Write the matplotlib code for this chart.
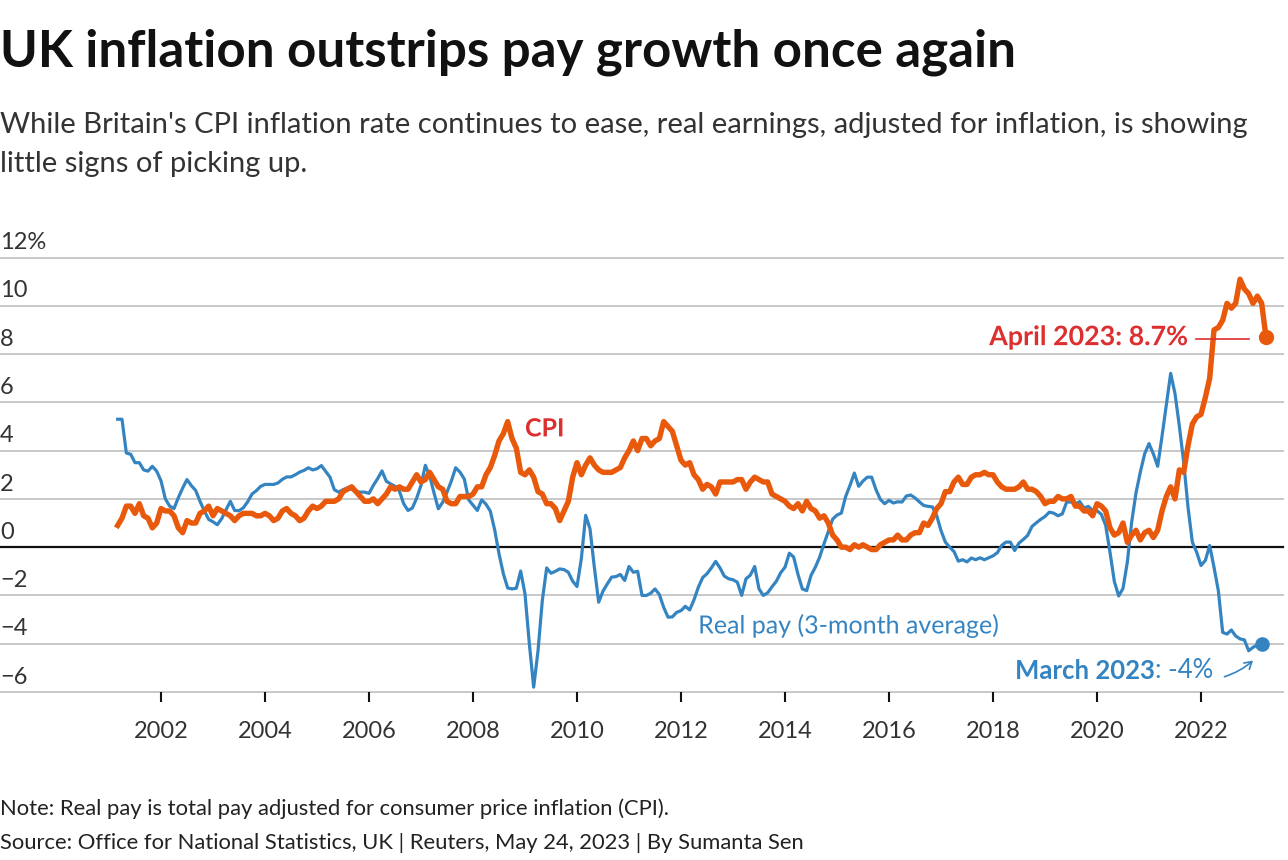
import numpy as np
import matplotlib
matplotlib.use("Agg")
import matplotlib.pyplot as plt
import matplotlib.patheffects as pe


# monthly series, first value = March 2001
start_year = 2001
start_month = 3

# CPI annual rate, Mar 2001 - Apr 2023
cpi = [
    0.9, 1.2, 1.7, 1.7, 1.4, 1.8, 1.3, 1.2, 0.8, 1.0,
    1.6, 1.5, 1.5, 1.3, 0.8, 0.6, 1.1, 1.0, 1.0, 1.4, 1.5, 1.7,
    1.3, 1.6, 1.5, 1.4, 1.3, 1.1, 1.3, 1.4, 1.4, 1.4, 1.3, 1.3,
    1.4, 1.3, 1.1, 1.2, 1.5, 1.6, 1.4, 1.3, 1.1, 1.2, 1.5, 1.7,
    1.6, 1.7, 1.9, 1.9, 1.9, 2.0, 2.3, 2.4, 2.5, 2.3, 2.1, 1.9,
    1.9, 2.0, 1.8, 2.0, 2.2, 2.5, 2.4, 2.5, 2.4, 2.4, 2.7, 3.0,
    2.7, 2.8, 3.1, 2.8, 2.5, 2.4, 1.9, 1.8, 1.8, 2.1, 2.1, 2.1,
    2.2, 2.5, 2.5, 3.0, 3.3, 3.8, 4.4, 4.7, 5.2, 4.5, 4.1, 3.1,
    3.0, 3.2, 2.9, 2.3, 2.2, 1.8, 1.8, 1.6, 1.1, 1.5, 1.9, 2.9,
    3.5, 3.0, 3.4, 3.7, 3.4, 3.2, 3.1, 3.1, 3.1, 3.2, 3.3, 3.7,
    4.0, 4.4, 4.0, 4.5, 4.5, 4.2, 4.4, 4.5, 5.2, 5.0, 4.8, 4.2,
    3.6, 3.4, 3.5, 3.0, 2.8, 2.4, 2.6, 2.5, 2.2, 2.7, 2.7, 2.7,
    2.7, 2.8, 2.8, 2.4, 2.7, 2.9, 2.8, 2.7, 2.7, 2.2, 2.1, 2.0,
    1.9, 1.7, 1.6, 1.8, 1.5, 1.9, 1.6, 1.5, 1.2, 1.3, 1.0, 0.5,
    0.3, 0.0, 0.0, -0.1, 0.1, 0.0, 0.1, 0.0, -0.1, -0.1, 0.1, 0.2,
    0.3, 0.3, 0.5, 0.3, 0.3, 0.5, 0.6, 0.6, 1.0, 0.9, 1.2, 1.6,
    1.8, 2.3, 2.3, 2.7, 2.9, 2.6, 2.6, 2.9, 3.0, 3.0, 3.1, 3.0,
    3.0, 2.7, 2.5, 2.4, 2.4, 2.4, 2.5, 2.7, 2.4, 2.4, 2.3, 2.1,
    1.8, 1.9, 1.9, 2.1, 2.0, 2.0, 2.1, 1.7, 1.7, 1.5, 1.5, 1.3,
    1.8, 1.7, 1.5, 0.8, 0.5, 0.6, 1.0, 0.2, 0.5, 0.7, 0.3, 0.6,
    0.7, 0.4, 0.7, 1.5, 2.1, 2.5, 2.0, 3.2, 3.1, 4.2, 5.1, 5.4,
    5.5, 6.2, 7.0, 9.0, 9.1, 9.4, 10.1, 9.9, 10.1, 11.1, 10.7, 10.5,
    10.1, 10.4, 10.1, 8.7,
]

# real total pay, 3-month average, Mar 2001 - Mar 2023
real_pay = [
    5.3, 5.3, 3.9, 3.85, 3.5, 3.5, 3.2, 3.15, 3.35, 3.15,
    2.75, 2.0, 1.7, 1.6, 2.05, 2.45, 2.8, 2.55, 2.35, 1.9, 1.5, 1.15,
    1.05, 0.93, 1.18, 1.55, 1.9, 1.52, 1.51, 1.63, 1.88, 2.2, 2.34, 2.52,
    2.6, 2.6, 2.6, 2.66, 2.81, 2.91, 2.91, 3.0, 3.11, 3.18, 3.29, 3.2,
    3.25, 3.38, 3.14, 2.9, 2.38, 2.28, 2.38, 2.45, 2.4, 2.31, 2.28, 2.28,
    2.23, 2.56, 2.84, 3.16, 2.73, 2.62, 2.52, 2.33, 1.8, 1.52, 1.62, 2.03,
    2.56, 3.39, 2.95, 2.25, 1.59, 1.86, 2.28, 2.74, 3.29, 3.11, 2.82, 1.96,
    1.74, 1.52, 1.96, 1.78, 1.49, 0.72, -0.27, -1.1, -1.69, -1.73, -1.7, -0.99,
    -1.94, -4.0, -5.8, -4.3, -2.2, -0.86, -1.08, -1.0, -0.9, -0.93, -1.04, -1.41,
    -1.63, -0.48, 1.32, 0.76, -0.83, -2.28, -1.82, -1.52, -1.24, -1.22, -1.13, -1.38,
    -0.8, -1.04, -1.0, -2.0, -2.0, -1.91, -1.73, -1.96, -2.49, -2.9, -2.89, -2.7,
    -2.63, -2.45, -2.6, -2.18, -1.66, -1.26, -1.1, -0.86, -0.59, -0.86, -1.2, -1.31,
    -1.35, -1.45, -2.0, -1.31, -1.16, -0.8, -1.73, -2.0, -1.89, -1.64, -1.41, -1.06,
    -0.83, -0.25, -0.41, -1.13, -1.73, -1.8, -1.17, -0.83, -0.41, 0.14, 0.65, 1.16,
    1.33, 1.41, 2.1, 2.56, 3.07, 2.52, 2.74, 2.9, 2.9, 2.38, 1.98, 1.8,
    1.94, 1.83, 1.88, 1.87, 2.12, 2.16, 2.04, 1.88, 1.73, 1.69, 1.67, 1.31,
    0.69, 0.21, 0.0, -0.18, -0.58, -0.52, -0.61, -0.45, -0.52, -0.44, -0.52, -0.44,
    -0.36, -0.23, 0.07, 0.21, 0.21, -0.14, 0.17, 0.32, 0.49, 0.86, 1.01, 1.15,
    1.27, 1.45, 1.41, 1.3, 1.38, 1.87, 1.87, 1.78, 1.89, 1.62, 1.69, 1.52,
    1.51, 1.36, 0.9, -0.21, -1.42, -2.02, -1.71, -0.62, 1.04, 2.25, 3.11, 3.87,
    4.29, 3.87, 3.35, 4.59, 5.88, 7.2, 6.36, 5.02, 3.53, 1.66, 0.21, -0.21,
    -0.76, -0.55, 0.07, -0.83, -1.8, -3.53, -3.6, -3.43, -3.68, -3.8, -3.84, -4.29,
    -4.15, -4.05, -4.0,
]

y_ticks = [-6, -4, -2, 0, 2, 4, 6, 8, 10, 12]
y_labels = ["\u22126", "\u22124", "\u22122", "0", "2", "4", "6", "8", "10", "12%"]
x_ticks = [2002, 2004, 2006, 2008, 2010, 2012, 2014, 2016, 2018, 2020, 2022]

ORANGE = "#e8590c"
BLUE = "#3584c2"
RED = "#dc2f2f"
GRID = "#c8c8c8"
TEXT = "#222222"

plt.rcParams["font.family"] = ["Lato", "DejaVu Sans"]


def month_axis(n):
    return start_year + (start_month - 1 + np.arange(n)) / 12


fig = plt.figure(figsize=(12.88, 8.6), dpi=100)
ax = fig.add_axes([0, 168 / 860, 1283 / 1288, 434.5 / 860])
ax.set_xlim(2000 - 57 / 52, 2000 + (1283 - 57) / 52)
ax.set_ylim(-6, 12)

for v in y_ticks:
    if v == 0:
        ax.axhline(v, color="#111111", lw=1.6, zorder=2, clip_on=False)
    else:
        ax.axhline(v, color=GRID, lw=1.4, zorder=1, clip_on=False)

x_cpi = month_axis(len(cpi))
x_pay = month_axis(len(real_pay))
ax.plot(x_pay, real_pay, color=BLUE, lw=2.3, solid_joinstyle="round", zorder=3)
ax.plot(x_cpi, cpi, color=ORANGE, lw=3.9, solid_joinstyle="round", zorder=4)
ax.plot(x_cpi[-1], cpi[-1], "o", color=ORANGE, ms=10, zorder=5)
ax.plot(x_pay[-1], real_pay[-1], "o", color=BLUE, ms=9.5, zorder=5)

for spine in ax.spines.values():
    spine.set_visible(False)
ax.set_yticks([])
ax.set_xticks(x_ticks)
ax.set_xticklabels([str(t) for t in x_ticks])
ax.tick_params(axis="x", length=7, width=1.5, color="#111111", pad=14,
               labelsize=17, labelcolor="#333333")

for v, s in zip(y_ticks, y_labels):
    ax.annotate(s, xy=(0, v), xycoords=("axes fraction", "data"),
                xytext=(0, 6), textcoords="offset points",
                ha="left", va="baseline", fontsize=17, color="#333333")

halo = [pe.withStroke(linewidth=4, foreground="white")]
ax.text(2009.0, 4.9, "CPI", color=RED, fontsize=18, fontweight="bold",
        ha="left", va="center", path_effects=halo)
ax.text(2012.33, -3.25, "Real pay (3-month average)", color=BLUE, fontsize=18,
        ha="left", va="center", path_effects=halo)
ax.text(2021.73, 8.7, "April 2023: 8.7%", color=RED, fontsize=19.3, fontweight="bold",
        ha="right", va="center", path_effects=halo)
ax.plot([2021.9, 2022.93], [8.62, 8.62], color=RED, lw=1.2, zorder=5)

t2 = ax.text(2000 + (1213 - 57) / 52, -5.12, ": -4%", color=BLUE, fontsize=18.5,
             ha="right", va="center")
ax.annotate("March 2023", xy=(0, 0.5), xycoords=t2, ha="right", va="center",
            color=BLUE, fontsize=18.5, fontweight="bold")
ax.annotate("", xy=(2023.04, -4.62), xytext=(2022.4, -5.4),
            arrowprops=dict(arrowstyle="->,head_length=0.5,head_width=0.3",
                            color=BLUE, lw=1.2,
                            connectionstyle="arc3,rad=0.12"))

fig.text(0, 1 - 67 / 860, "UK inflation outstrips pay growth once again",
         fontsize=36.8, fontweight="bold", color="#111111", va="baseline")
fig.text(0, 1 - 133 / 860,
         "While Britain's CPI inflation rate continues to ease, real earnings, adjusted for inflation, is showing",
         fontsize=21, color="#333333", va="baseline")
fig.text(0, 1 - 172 / 860, "little signs of picking up.",
         fontsize=21, color="#333333", va="baseline")
fig.text(0, 1 - 815 / 860,
         "Note: Real pay is total pay adjusted for consumer price inflation (CPI).",
         fontsize=15.8, color=TEXT, va="baseline")
fig.text(0, 1 - 849 / 860,
         "Source: Office for National Statistics, UK | Reuters, May 24, 2023 | By Sumanta Sen",
         fontsize=15.8, color=TEXT, va="baseline")

fig.savefig("out.png", dpi=100, facecolor="white")
